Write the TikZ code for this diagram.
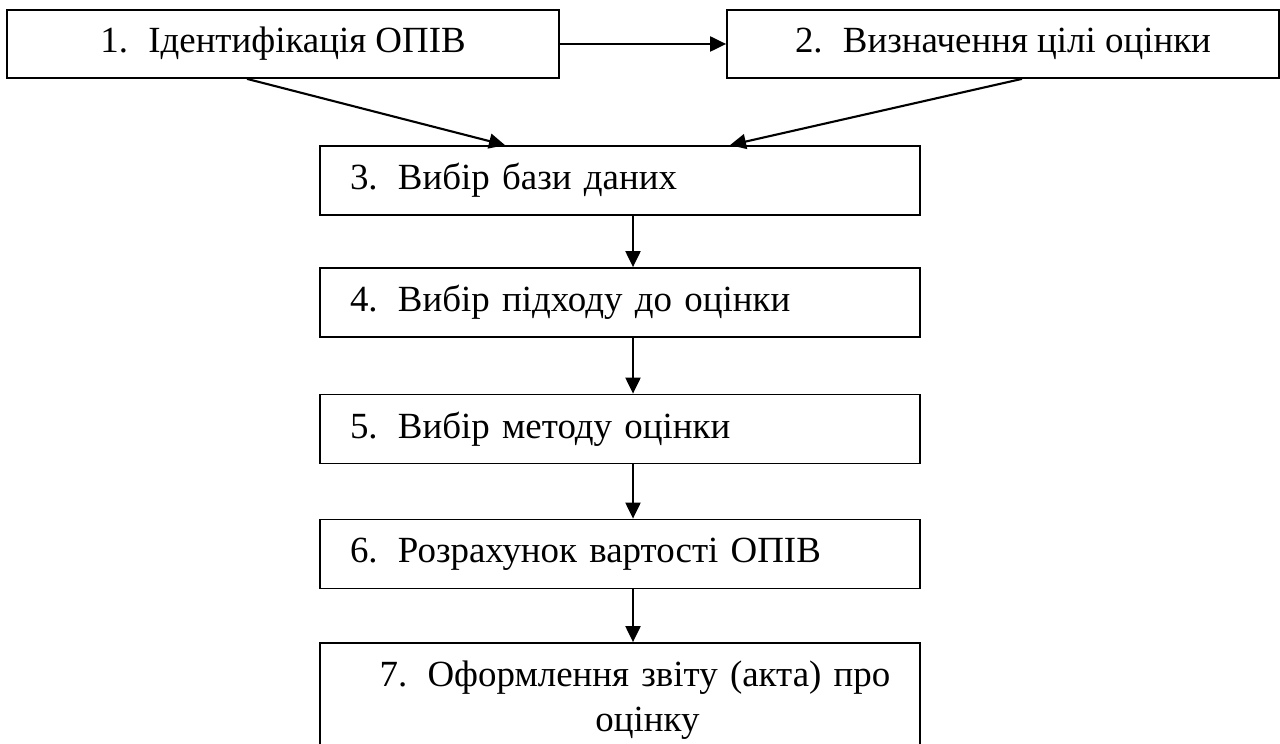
\documentclass[tikz,border=0pt]{standalone}
\usepackage{fontspec}
\setmainfont{Liberation Serif}
\usetikzlibrary{arrows.meta}
\definecolor{Ink}{HTML}{000000}
\newcommand{\stepno}[1]{#1.\hspace{0.55em}}

\begin{document}
\begin{tikzpicture}[>={Triangle[length=0.32cm,width=0.3cm]},every node/.style={font=\fontsize{21}{25.5}\selectfont,text=Ink},
  topbox/.style={draw=Ink,line width=1pt,minimum width=11.04cm,minimum height=1.36cm,inner sep=0pt},
  stepbox/.style={draw=Ink,line width=1pt,text width=10.8cm,inner xsep=0.6cm,inner ysep=0pt,minimum height=1.38cm,align=left},
  link/.style={->,draw=Ink,line width=1.2pt}]
\clip (0,0) rectangle (25.6,14.86);
\node[topbox] (b1) at (5.66,13.98){\stepno{1}Ідентифікація ОПІВ};
\node[topbox] (b2) at (20.06,13.98){\stepno{2}Визначення цілі оцінки};
\node[stepbox] (b3) at (12.4,11.25){\stepno{3}Вибір бази даних};
\node[stepbox] (b4) at (12.4,8.81){\stepno{4}Вибір підходу до оцінки};
\node[stepbox] (b5) at (12.4,6.28){\stepno{5}Вибір методу оцінки};
\node[stepbox] (b6) at (12.4,3.78){\stepno{6}Розрахунок вартості ОПІВ};
\node[stepbox,align=center,text width=11.6cm,inner xsep=0.2cm,minimum height=2.28cm] (b7) at (12.4,0.86){\hspace*{0.6cm}\stepno{7}Оформлення звіту (акта) про\\\hspace*{1.1cm}оцінку};
\draw[link] (b1)--(b2);
\draw[link] ([xshift=-0.72cm]b1.south)--([xshift=-2.3cm]b3.north);
\draw[link] ([xshift=0.38cm]b2.south)--([xshift=2.2cm]b3.north);
\foreach \a/\b in {b3/b4,b4/b5,b5/b6,b6/b7}
  \draw[link] ([xshift=0.26cm]\a.south)--([xshift=0.26cm]\b.north);
\end{tikzpicture}
\end{document}
